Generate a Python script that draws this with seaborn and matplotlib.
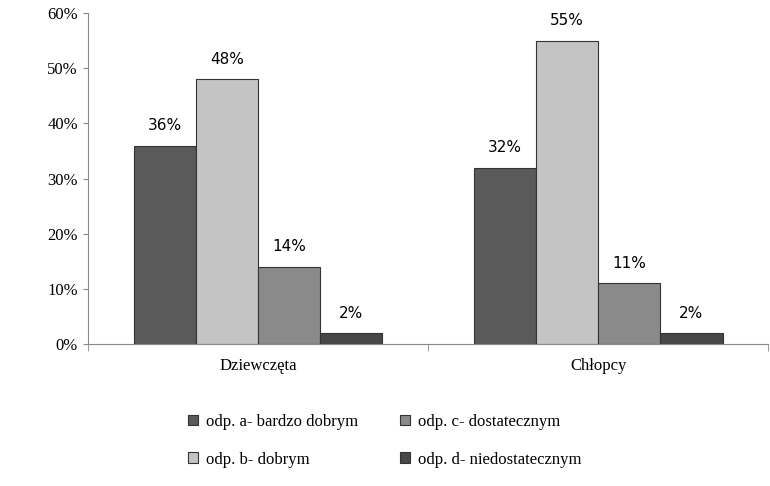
import pandas as pd
import matplotlib.pyplot as plt
import seaborn as sns
from matplotlib.ticker import PercentFormatter

groups = ['Dziewczęta', 'Chłopcy']
answers = ['odp. a- bardzo dobrym', 'odp. b- dobrym',
           'odp. c- dostatecznym', 'odp. d- niedostatecznym']
girls = [36, 48, 14, 2]
boys = [32, 55, 11, 2]
colors = ['#5a5a5a', '#c4c4c4', '#8a8a8a', '#474747']

df = pd.DataFrame({
    'grupa': [g for g in groups for _ in answers],
    'odp': answers * 2,
    'val': girls + boys,
})

fig = plt.figure(figsize=(7.7, 4.86), dpi=100)
ax = fig.add_axes([0.114, 0.292, 0.884, 0.681])
sns.barplot(data=df, x='grupa', y='val', hue='odp', hue_order=answers,
            palette=colors, width=0.73, edgecolor='#333333', linewidth=0.8,
            ax=ax)

for cont in ax.containers:
    ax.bar_label(cont, labels=[f'{v:.0f}%' for v in cont.datavalues],
                 padding=9, fontsize=11, family='DejaVu Sans')

ax.set_ylim(0, 60)
ax.set_yticks(range(0, 61, 10))
ax.yaxis.set_major_formatter(PercentFormatter(decimals=0))
ax.set_xlabel('')
ax.set_ylabel('')
for s in ['top', 'right']:
    ax.spines[s].set_visible(False)
for s in ['left', 'bottom']:
    ax.spines[s].set_color('#888888')
ax.set_xticks([-0.5, 0.5, 1.5], minor=True)
ax.set_xlim(-0.5, 1.5)
ax.tick_params(axis='x', which='major', length=0, pad=10)
ax.tick_params(axis='x', which='minor', length=5, color='#888888')
ax.tick_params(axis='y', color='#888888')
for lab in ax.get_xticklabels() + ax.get_yticklabels():
    lab.set_family('Liberation Serif')
    lab.set_fontsize(12)

h, l = ax.get_legend_handles_labels()
ax.get_legend().remove()
fig.legend(h, l, loc='center', bbox_to_anchor=(0.5, 0.093), ncol=2,
           frameon=False, prop={'family': 'Liberation Serif', 'size': 12},
           handlelength=0.6, handleheight=0.6, columnspacing=2.5,
           labelspacing=1.3, handletextpad=0.5)

fig.savefig('out.png', dpi=100)
